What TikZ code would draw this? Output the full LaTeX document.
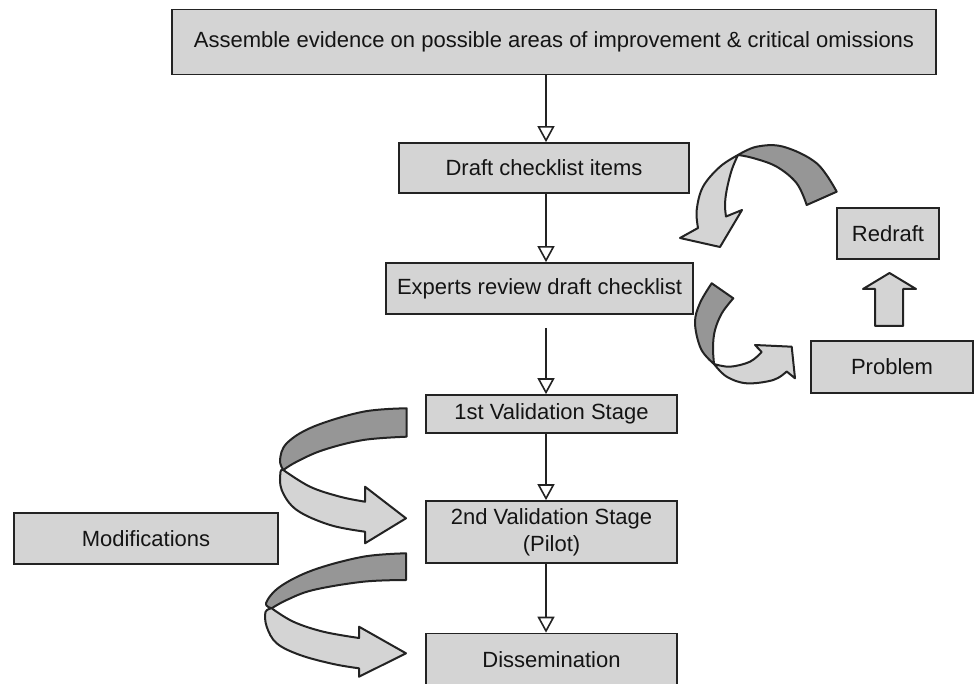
\documentclass[tikz,border=0pt]{standalone}
\usepackage{fontspec}
\setmainfont{Liberation Sans}
\usetikzlibrary{arrows.meta,calc}
\definecolor{boxfill}{RGB}{212,212,212}
\definecolor{darkband}{RGB}{150,150,150}
\definecolor{edgec}{RGB}{35,35,35}
\begin{document}
\begin{tikzpicture}[x=1pt,y=-1pt,
  box/.style={draw=edgec, line width=1.7pt, fill=boxfill, inner sep=0pt,
    font=\fontsize{22}{27}\selectfont, text=black!92, align=center},
  flow/.style={draw=edgec, line width=1.6pt,
    -{Triangle[open, length=16pt, width=17pt, line width=1.6pt]}},
  bandd/.style={draw=edgec, line width=2pt, line join=round, fill=darkband},
  bandl/.style={draw=edgec, line width=2pt, line join=round, fill=boxfill}]
\useasboundingbox (0,0) rectangle (974,684);

% boxes
\node[box, minimum width=764pt, minimum height=65pt] (top) at (554,42)
  {Assemble evidence on possible areas of improvement \& critical omissions};
\node[box, minimum width=290pt, minimum height=50pt] (draft) at (544,168) {Draft checklist items};
\node[box, minimum width=307pt, minimum height=51pt] (experts) at (539.5,288.5) {Experts review draft checklist};
\node[box, minimum width=251pt, minimum height=38pt] (v1) at (551.5,414) {1st Validation Stage};
\node[box, minimum width=251pt, minimum height=62pt] (v2) at (551.5,532) {2nd Validation Stage\\(Pilot)};
\node[box, minimum width=251pt, minimum height=52pt] (diss) at (551.5,659.5) {Dissemination};
\node[box, minimum width=264pt, minimum height=51pt] (mod) at (146,538.5) {Modifications};
\node[box, minimum width=102pt, minimum height=51pt] (redraft) at (888,233.5) {Redraft};
\node[box, minimum width=162pt, minimum height=52pt] (problem) at (892,367) {Problem};

% straight connectors
\coordinate (ax) at (546,0);
\draw[flow] (top.south -| ax) -- (draft.north -| ax);
\draw[flow] (draft.south -| ax) -- (experts.north -| ax);
\draw[flow, shorten <=13pt] (experts.south -| ax) -- (v1.north -| ax);
\draw[flow] (v1.south -| ax) -- (v2.north -| ax);
\draw[flow] (v2.south -| ax) -- (diss.north -| ax);

% block arrow Problem -> Redraft
\draw[bandl] (875,326) -- (875,289) -- (863,289) -- (889.5,273) -- (916,289)
  -- (903,289) -- (903,326) -- cycle;

% upper right ribbon (Redraft -> Draft)
\draw[bandd] (806.7,205) -- (836.7,191.7)
  -- plot[smooth, tension=0.6] coordinates {(836.7,191.7) (816.7,163.3) (783.3,146.7) (756.7,146.7) (738,155)}
  -- plot[smooth, tension=0.6] coordinates {(738,155) (753,158) (776.7,166.7) (796.7,183.3) (806.7,205)}
  -- cycle;
\draw[bandl] (738,155)
  -- plot[smooth, tension=0.6] coordinates {(738,155) (720,166.7) (703,186.7) (696.7,210) (698,228)}
  -- (680,238) -- (720,247) -- (742,210) -- (726,216.5)
  -- plot[smooth, tension=0.6] coordinates {(726,216.5) (725,205) (726.7,190) (731.7,170) (738,155)}
  -- cycle;

% lower right ribbon (Experts -> Problem)
\draw[bandd] (711.7,283.3) -- (733.3,298.3)
  -- plot[smooth, tension=0.6] coordinates {(733.3,298.3) (722,313) (715,330) (713,347) (714,364)}
  -- plot[smooth, tension=0.6] coordinates {(714,364) (701,349) (695,323) (700,303) (711.7,283.3)}
  -- cycle;
\draw[bandl] (714,364)
  -- plot[smooth, tension=0.6] coordinates {(714,364) (730,366.7) (750,361.7) (761.7,352)}
  -- (755,345) -- (791.7,346.7) -- (795,378.3) -- (786.7,371.5)
  -- plot[smooth, tension=0.6] coordinates {(786.7,371.5) (773.3,380) (746.7,383.3) (726.7,376.7) (714,364)}
  -- cycle;

% upper left ribbon (1st -> 2nd)
\draw[bandd] (406.7,408.3) -- (406.7,436.7)
  -- plot[smooth, tension=0.6] coordinates {(406.7,436.7) (363.3,440) (323.3,450) (296.7,461.7) (283.3,470)}
  -- plot[smooth, tension=0.6] coordinates {(283.3,470) (280,460) (286.7,443.3) (313.3,426.7) (363.3,411.7) (406.7,408.3)}
  -- cycle;
\draw[bandl] (283.3,470)
  -- plot[smooth, tension=0.6] coordinates {(283.3,470) (310,486.7) (340,496.7) (365,501.7)}
  -- (365,486.7) -- (406,518.3) -- (365,543.3) -- (365,531.7)
  -- plot[smooth, tension=0.6] coordinates {(365,531.7) (330,525) (296.7,510) (281.7,490) (280.5,472) (283.3,470)}
  -- cycle;

% lower left ribbon (2nd -> Dissemination)
\draw[bandd] (406,553.3) -- (406,580)
  -- plot[smooth, tension=0.6] coordinates {(406,580) (363.3,581.7) (313.3,590) (286.7,600) (271.7,608.3)}
  -- plot[smooth, tension=0.6] coordinates {(271.7,608.3) (266,603) (280,586.7) (313.3,570) (363.3,556.7) (406,553.3)}
  -- cycle;
\draw[bandl] (271.7,608.3)
  -- plot[smooth, tension=0.6] coordinates {(271.7,608.3) (293.3,621.7) (323.3,631.7) (359,638)}
  -- (359,626.7) -- (406,653.3) -- (359,676.7) -- (359,668.3)
  -- plot[smooth, tension=0.6] coordinates {(359,668.3) (333.3,664) (300,655) (276.7,643.3) (266.7,626.7) (265.5,612) (271.7,608.3)}
  -- cycle;
\end{tikzpicture}
\end{document}
